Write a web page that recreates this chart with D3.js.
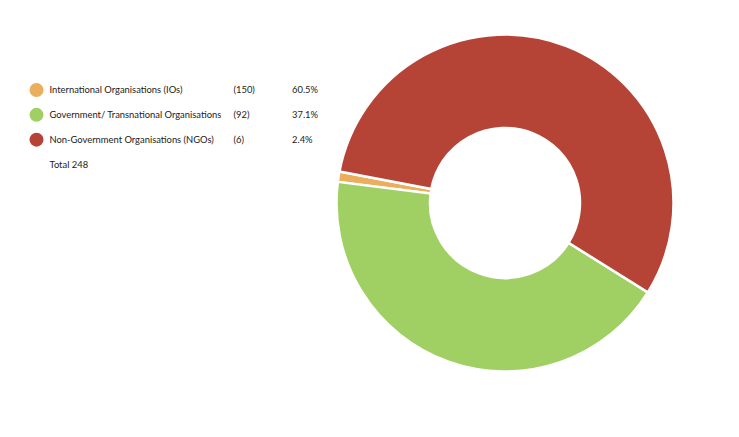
<!DOCTYPE html>
<html lang="en">
<head>
    <meta charset="utf-8">
    <style>
     body{
        margin: 0;
        background-color: white;
     }
     svg {
        font-family: 'Lato';
     }
     text.legend {
        font-size: 9.4px;
        fill: #222;
     }
    </style>
</head>
<body>
    <svg width=739 height=437></svg>
    <script src="https://d3js.org/d3.v7.min.js"></script>
    <script>

    const categories = ["International Organisations (IOs)", "Government/ Transnational Organisations", "Non-Government Organisations (NGOs)"]
    const counts = [150, 92, 6]
    const percentLabels = ["60.5%", "37.1%", "2.4%"]
    const totalLabel = "Total 248"
    // slice sizes (% of circle) as drawn in the donut
    const sliceShares = [1.0, 43.1, 55.9]
    const colors = ["#EAAE5C", "#A0CF63", "#B54336"]

    const width = 739
    const height = 437
    const cx = 505, cy = 203
    const outerR = 168.5, innerR = 75

    const svg = d3.select("svg")

    const deg = Math.PI / 180
    const pie = d3.pie()
      .sort(null)
      .value(function(d){ return d })
      .startAngle(280.8 * deg)
      .endAngle(280.8 * deg - 2 * Math.PI)

    const arc = d3.arc()
      .innerRadius(innerR)
      .outerRadius(outerR)

    svg.append("g")
      .attr("class", "donut")
      .attr("transform", "translate(" + cx + "," + cy + ")")
      .selectAll("path")
      .data(pie(sliceShares))
      .enter()
      .append("path")
      .attr("d", arc)
      .attr("fill", function(d, i){ return colors[i] })
      .attr("stroke", "white")
      .attr("stroke-width", 2.5)

    const rowY = d3.scalePoint().domain(d3.range(4)).range([90, 164.5])

    const legend = svg.append("g").attr("class", "legend")

    legend.selectAll("circle")
      .data(categories)
      .enter()
      .append("circle")
      .attr("cx", 36.5)
      .attr("cy", function(d, i){ return rowY(i) })
      .attr("r", 7)
      .attr("fill", function(d, i){ return colors[i] })

    const cols = [
      { x: 49.5, text: function(d, i){ return categories[i] } },
      { x: 233.5, text: function(d, i){ return "(" + counts[i] + ")" } },
      { x: 292, text: function(d, i){ return percentLabels[i] } }
    ]

    cols.forEach(function(c){
      legend.selectAll(null)
        .data(categories)
        .enter()
        .append("text")
        .attr("class", "legend")
        .attr("x", c.x)
        .attr("y", function(d, i){ return rowY(i) })
        .attr("dy", "0.36em")
        .text(c.text)
    })

    legend.append("text")
      .attr("class", "legend")
      .attr("x", 49.5)
      .attr("y", rowY(3))
      .attr("dy", "0.36em")
      .text(totalLabel)

    </script>
</body>
</html>
